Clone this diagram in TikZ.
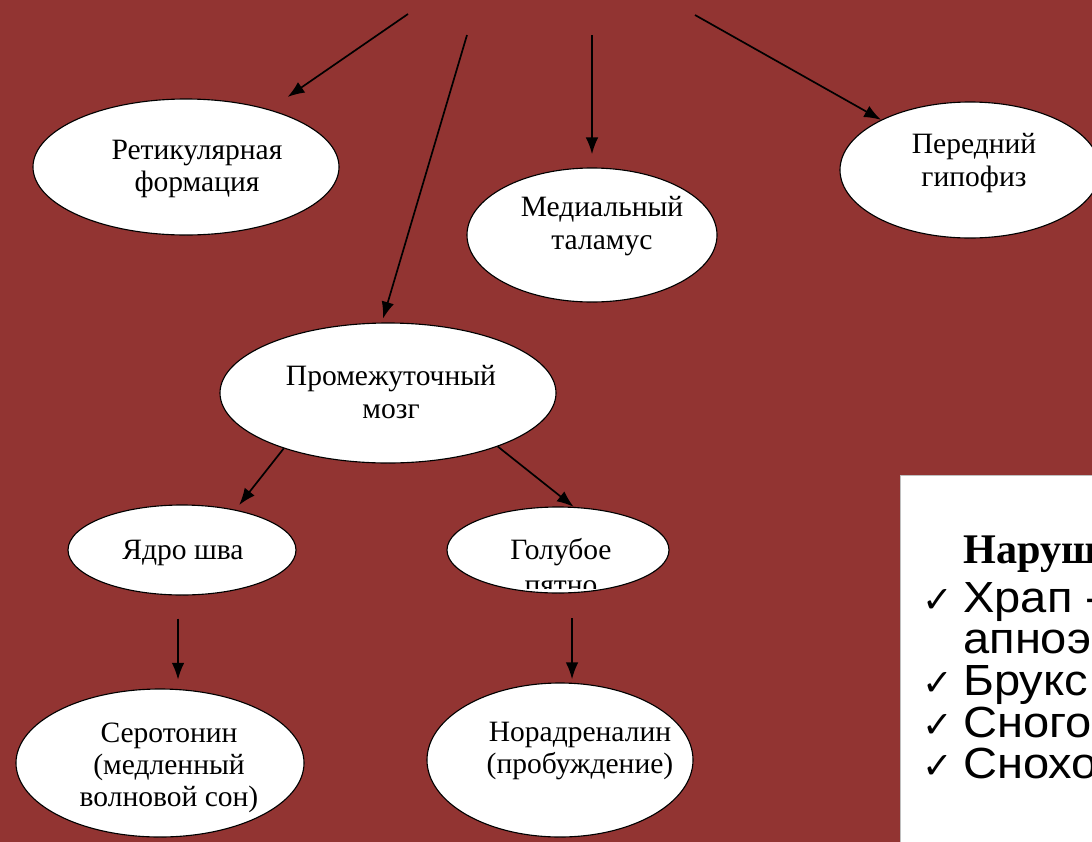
\documentclass[tikz,border=0pt]{standalone}
\usepackage{fontspec}
\setmainfont{Liberation Serif}
\newfontfamily\arialFont{Liberation Sans}
\newfontfamily\checkFont{DejaVu Sans}
\usetikzlibrary{calc, arrows.meta, positioning, shapes.geometric}
\definecolor{slideRed}{RGB}{146,52,50}

\begin{document}
\begin{tikzpicture}[x=0.025cm, y=-0.025cm,
    oval/.style 2 args={ellipse, draw=black, line width=0.8pt, fill=white,
        inner sep=0pt, minimum width=#1*0.025cm, minimum height=#2*0.025cm},
    ovalText/.style={align=center, inner sep=0pt, font=\fontsize{21}{23}\selectfont},
    arr/.style={line width=1.2pt, -{Latex[length=12pt,width=9pt]}},
    listText/.style={anchor=base west, inner sep=0pt, xscale=1.08, font=\arialFont\fontsize{31}{33}\selectfont},
    checkText/.style={anchor=base west, inner sep=0pt, font=\checkFont\fontsize{26}{28}\selectfont}]

\useasboundingbox (0,0) rectangle (1092,842);
\clip (0,0) rectangle (1092,842);
\fill[slideRed] (0,0) rectangle (1092,842);

% ovals
\node[oval={306}{136}] (nRetic) at (186,167) {};
\node[oval={260}{136}] (nPered) at (970,170) {};
\node[oval={250}{134}] (nMedial) at (592,235) {};
\node[oval={336}{140}] (nProm) at (388,393) {};
\node[oval={228}{90}] (nRaphe) at (182,550) {};
\node[oval={222}{86}] (nBlue) at (558,550) {};
\node[oval={288}{148}] (nSero) at (160,763) {};
\node[oval={266}{154}] (nNor) at (560,760) {};

\node[ovalText] (tRetic) at (197,169) {Ретикулярная\\формация};
\node[ovalText] (tPered) at (974,163) {Передний\\гипофиз};
\node[ovalText] (tMedial) at (602,226) {Медиальный\\таламус};
\node[ovalText] (tProm) at (391,392) {Промежуточный\\мозг};
\node[ovalText] (tRaphe) at (183,553) {Ядро шва};
\node[ovalText] (tBlue) at (561,552) {Голубое};
\begin{scope}
    \clip (440,500) rectangle (680,588);
    \node[ovalText] (tBlueB) at (561,588) {пятно};
\end{scope}
\node[ovalText] (tSero) at (169,768) {Серотонин\\(медленный\\волновой сон)};
\node[ovalText] (tNor) at (580,751) {Норадреналин\\(пробуждение)};

% arrows from the title
\coordinate (cTopA) at (408,14);
\coordinate (cTopB) at (467,35);
\coordinate (cTopC) at (592,35);
\coordinate (cTopD) at (695,15);

\draw[arr, shorten >=0.55cm] (cTopA) -- (nRetic);
\draw[arr, shorten >=0.1cm] (cTopB) -- (nProm.95);
\draw[arr, shorten >=0.33cm] (cTopC) -- (nMedial.north);
\draw[arr] (cTopD) -- (nPered);

\draw[arr, shorten >=0.15cm] (nProm.208) -- (nRaphe.37);
\draw[arr] (nProm.-26) -- (nBlue.70);
\draw[arr, shorten <=0.58cm, shorten >=0.22cm] (nRaphe.265) -- (nRaphe.265 |- nSero.north);
\draw[arr, shorten <=0.62cm, shorten >=0.08cm] (nBlue.-72) -- (nBlue.-72 |- nNor.north);

% right box
\draw[gray!50, fill=white] (900,475) rectangle (1110,860);
\node[anchor=base west, inner sep=0pt, font=\bfseries\fontsize{30}{32}\selectfont] (tHead) at (963,563) {Наруш};
\foreach \y/\t in {612/Храп -, 695/Брукс, 737/Сного, 778/Снохо}
{
    \node[checkText] (tCheck\y) at (922,\y) {✓};
    \node[listText] (tList\y) at (963,\y) {\t};
}
\node[listText] (tList653) at (963,653) {апноэ};
\end{tikzpicture}
\end{document}
